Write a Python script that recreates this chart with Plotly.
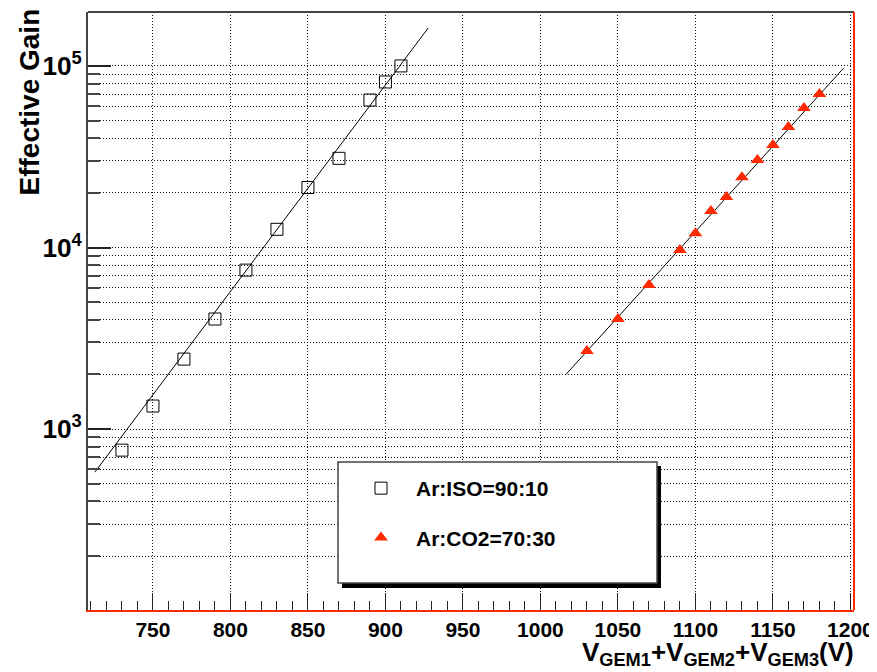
import numpy as np
import plotly.graph_objects as go

# ---- data ----
iso_v = [730, 750, 770, 790, 810, 830, 850, 870, 890, 900, 910]
iso_gain = [766, 1340, 2430, 4040, 7510, 12600, 21400, 31000, 64900, 81600, 100000]

co2_v = [1030, 1050, 1070, 1090, 1100, 1110, 1120, 1130, 1140, 1150, 1160, 1170, 1180]
co2_gain = [2690, 4040, 6210, 9680, 12000, 15900, 18950, 24400, 30300, 36700, 46100, 58700, 70100]

# exponential fits: log10(G) = a + b*V over [vmin, vmax]
iso_fit = dict(a=-5.3396, b=0.011372, vmin=712.5, vmax=927.6)
co2_fit = dict(a=-6.2686, b=0.009415, vmin=1016.1, vmax=1195.7)

x_ticks = [750, 800, 850, 900, 950, 1000, 1050, 1100, 1150, 1200]
legend_names = ["Ar:ISO=90:10", "Ar:CO2=70:30"]

FONT = "Liberation Sans, Arial, Helvetica, sans-serif"
RED = "#ff2a00"


def fit_curve(p):
    v = np.linspace(p["vmin"], p["vmax"], 60)
    return v, 10 ** (p["a"] + p["b"] * v)


fig = go.Figure()
for p in (iso_fit, co2_fit):
    fv, fg = fit_curve(p)
    fig.add_trace(go.Scatter(x=fv, y=fg, mode="lines", line=dict(color="black", width=1),
                             showlegend=False, hoverinfo="skip"))

fig.add_trace(go.Scatter(x=iso_v, y=iso_gain, mode="markers", name=legend_names[0],
                         legendgroup="a",
                         marker=dict(symbol="square-open", size=12, color="black",
                                     line=dict(width=1, color="black"))))
fig.add_trace(go.Scatter(x=co2_v, y=co2_gain, mode="markers", name=legend_names[1],
                         legendgroup="b",
                         marker=dict(symbol="triangle-up", size=12, color=RED,
                                     line=dict(width=0))))

DOT = "1px,2px"
grid = dict(showgrid=True, gridcolor="#111111", gridwidth=1, griddash=DOT)

fig.update_xaxes(range=[708.1, 1202.3], tickvals=x_ticks, ticks="inside", ticklen=17,
                 tickwidth=1, tickcolor="#222222", automargin=False,
                 tickfont=dict(family=FONT, size=21, color="black", weight="bold"),
                 showline=True, linecolor=RED, linewidth=2, zeroline=False,
                 minor=dict(dtick=10, ticks="inside", ticklen=9, tickcolor="#222222",
                            showgrid=False),
                 **grid)
fig.update_yaxes(type="log", range=[2.004, 5.297], dtick=1, exponentformat="power",
                 ticks="inside", ticklen=23, tickwidth=2, tickcolor="#222222",
                 automargin=False,
                 tickfont=dict(family=FONT, size=21, color="black", weight="bold"),
                 showline=True, linecolor="#444444", linewidth=2, zeroline=False,
                 minor=dict(dtick="D1", ticks="inside", ticklen=12, tickwidth=2,
                            tickcolor="#444444", showgrid=True, gridcolor="#111111",
                            griddash=DOT),
                 **grid)

# frame: top dark, right red
fig.add_shape(type="line", xref="paper", yref="paper", x0=0, x1=1, y0=1, y1=1,
              line=dict(color="#444444", width=2))
fig.add_shape(type="line", xref="paper", yref="paper", x0=1, x1=1, y0=0, y1=1,
              line=dict(color=RED, width=2))

# page offset of the html body (8px) is compensated in the figure size / margins
W, H = 766.0, 598.0  # plot area size in px
def px(xp):
    return (xp - 88) / W
def py(yp):
    return 1 - (yp - 12) / H

fig.add_shape(type="rect", xref="paper", yref="paper", x0=px(342), x1=px(661),
              y0=py(588), y1=py(466), fillcolor="black", line=dict(width=0), layer="above")
fig.add_shape(type="rect", xref="paper", yref="paper", x0=px(338), x1=px(657),
              y0=py(583), y1=py(462), fillcolor="white",
              line=dict(color="#444444", width=1.5), layer="above")

fig.update_layout(
    width=869, height=664,
    margin=dict(l=80, r=23, t=4, b=62, autoexpand=False),
    paper_bgcolor="white", plot_bgcolor="white",
    font=dict(family=FONT, color="black"),
    showlegend=True,
    legend=dict(x=px(346), y=py(468), xanchor="left", yanchor="top",
                bgcolor="rgba(0,0,0,0)", borderwidth=0, tracegroupgap=19,
                traceorder="grouped", itemwidth=60,
                font=dict(family=FONT, size=21, color="black", weight="bold")),
    annotations=[
        dict(text="<b>Effective Gain</b>", xref="paper", yref="paper",
             x=px(29), y=py(7), xanchor="center", yanchor="top", textangle=-90,
             showarrow=False, font=dict(family=FONT, size=28, color="black")),
        dict(text="<b>V<sub>GEM1</sub>+V<sub>GEM2</sub>+V<sub>GEM3</sub>(V)</b>",
             xref="paper", yref="paper", x=px(856), y=py(672), xanchor="right",
             yanchor="bottom", showarrow=False,
             font=dict(family=FONT, size=26, color="black")),
    ],
)

fig.write_html("out.html")
